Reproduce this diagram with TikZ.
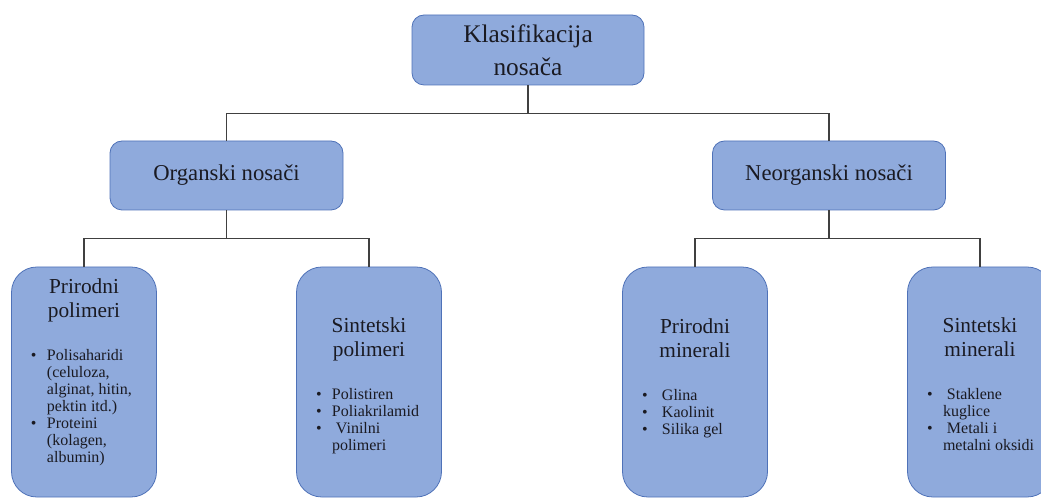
\documentclass[tikz,border=0pt]{standalone}
\usepackage{fontspec}
\setmainfont{Liberation Serif}
\usetikzlibrary{positioning}
\definecolor{nsfill}{HTML}{8FAADC}
\definecolor{nsline}{HTML}{4F72B8}
\definecolor{nslink}{HTML}{404040}
\definecolor{nstext}{HTML}{1A1A22}
\newcommand{\itm}{\makebox[12pt][l]{\textbullet}}
\newcommand{\topstrut}{\rule{0pt}{18.5pt}}
\newcommand{\botstrut}[1]{\rule[-#1]{0pt}{#1}}
\newcommand{\leaflist}[1]{\makebox[79.5pt][l]{\fontsize{12}{12.75}\selectfont
  \spaceskip=0pt\xspaceskip=0pt\begin{tabular}[t]{@{}l@{}l@{}}#1\end{tabular}}}

\begin{document}
\begin{tikzpicture}[
    x=0.75pt, y=-0.75pt,
    root/.style={rectangle, rounded corners=9pt, draw=nsline, fill=nsfill,
                 minimum width=174pt, minimum height=52.5pt, align=center,
                 text=nstext, font=\fontsize{19}{24.5}\selectfont, line width=0.6pt},
    branch/.style={rectangle, rounded corners=9pt, draw=nsline, fill=nsfill,
                   minimum width=174.75pt, minimum height=51.75pt, align=center,
                   text=nstext, font=\fontsize{17}{20}\selectfont, line width=0.6pt},
    leaf/.style={rectangle, rounded corners=19pt, draw=nsline, fill=nsfill,
                 minimum width=108.75pt, minimum height=172.5pt, text width=79.5pt,
                 inner xsep=14.625pt, inner ysep=0pt, align=center,
                 text=nstext, font=\fontsize{16}{18}\selectfont, line width=0.6pt},
    link/.style={draw=nslink, line width=0.8pt}
  ]
    \useasboundingbox (0,0) rectangle (1041,498);

    \node[root] (root) at (528,50) {Klasifikacija\\nosača};
    \node[branch] (org) at (226.5,175.5) {Organski nosači};
    \node[branch] (neorg) at (829,175.5) {Neorganski nosači};

    \node[leaf] (natpol) at (84,382) {Prirodni\\polimeri\\[14pt]
      \leaflist{\itm & Polisaharidi\\ & (celuloza,\\ & alginat, hitin,\\ & pektin itd.)\\
                \itm & Proteini\\ & (kolagen,\\ & albumin)\botstrut{17.3pt}}};
    \node[leaf] (synpol) at (369,382) {\topstrut Sintetski\\polimeri\\[14pt]
      \leaflist{\itm & Polistiren\\ \itm & Poliakrilamid\\ \itm & \ Vinilni\\ & polimeri}};
    \node[leaf] (natmin) at (695,382) {Prirodni\\minerali\\[14pt]
      \leaflist{\itm & \ Glina\\ \itm & \ Kaolinit\\ \itm & \ Silika gel\botstrut{8.3pt}}};
    \node[leaf] (synmin) at (980,382) {\topstrut Sintetski\\minerali\\[14pt]
      \leaflist{\itm & \ Staklene\\ & kuglice\\ \itm & \ Metali i\\ & metalni oksidi}};

    \draw[link] (root.south) -- ++(0,28) -| (org.north);
    \draw[link] (root.south) -- ++(0,28) -| (neorg.north);
    \draw[link] (org.south) -- ++(0,28) -| (natpol.north);
    \draw[link] (org.south) -- ++(0,28) -| (synpol.north);
    \draw[link] (neorg.south) -- ++(0,28) -| (natmin.north);
    \draw[link] (neorg.south) -- ++(0,28) -| (synmin.north);
  \end{tikzpicture}
\end{document}
